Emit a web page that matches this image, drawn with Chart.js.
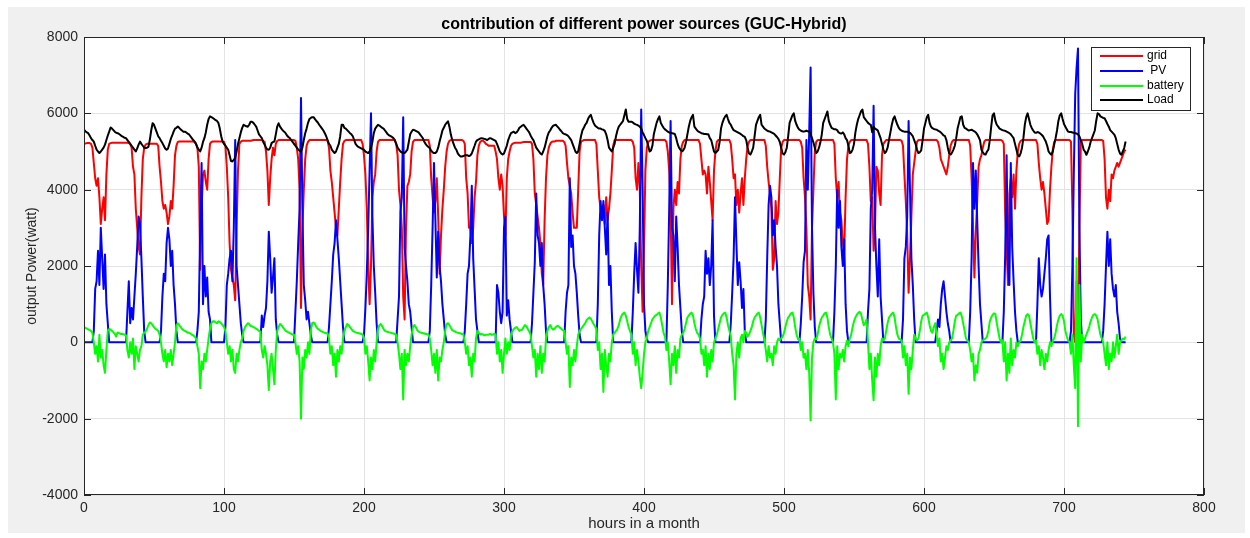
<!DOCTYPE html>
<html>
<head>
<meta charset="utf-8">
<title>contribution of different power sources</title>
<script src="https://cdn.jsdelivr.net/npm/chart.js@4.4.1/dist/chart.umd.min.js"></script>
<style>
  html, body { margin: 0; padding: 0; background: #ffffff; }
  #wrap { width: 1250px; height: 538px; }
</style>
</head>
<body>
<div id="wrap"><canvas id="powerChart" width="1250" height="538"></canvas></div>
<script>
// hourly values, one row per day (24 h), last row runs to hour 744
const gridDays = [
  [5200,5210,5220,5220,5220,5200,5100,4700,4300,4100,4300,3800,3100,3500,3800,3200,4400,5050,5200,5220,5230,5230,5230,5230],
  [5230,5230,5230,5230,5230,5230,5230,5230,5220,5200,5100,4600,4400,3500,3000,2500,2300,3800,4800,5100,5180,5200,5200,5200],
  [5200,5200,5200,5200,5200,5150,4600,4200,3700,3500,3600,3400,3100,3300,3700,3500,4100,4900,5150,5250,5260,5260,5260,5260],
  [5260,5260,5260,5260,5260,5260,5260,5250,5200,5100,4600,1900,3500,4400,4500,4200,4000,4800,5200,5250,5260,5260,5260,5260],
  [5260,5260,5260,5260,5250,5150,4600,3800,2600,1900,1700,1500,1100,3000,4500,5200,5260,5280,5280,5280,5280,5280,5280,5280],
  [5290,5300,5300,5300,5300,5300,5300,5300,5280,5250,5000,4500,3600,4300,4800,5100,4900,5200,5280,5300,5300,5300,5300,5300],
  [5300,5300,5300,5300,5300,5300,5300,5280,5100,4800,4000,900,3000,4000,4800,5150,5250,5300,5300,5300,5300,5300,5300,5300],
  [5300,5300,5300,5300,5300,5300,5280,5100,4500,4200,3800,3400,3000,2800,3500,4200,4800,5200,5280,5300,5300,5300,5300,5300],
  [5300,5300,5300,5300,5300,5300,5300,5200,4900,4400,3500,2000,1000,2000,3800,4200,4400,5000,5250,5300,5300,5300,5300,5300],
  [5300,5300,5300,5300,5300,5300,5300,5200,4900,4000,3600,3000,1200,600,3000,4100,4200,4400,5000,5250,5300,5300,5300,5300],
  [5300,5300,5300,5300,5300,5300,5300,5150,4300,3800,3400,3700,4300,3300,1800,2800,3500,4000,4600,5000,5200,5280,5300,5300],
  [5300,5300,5300,5300,5300,5300,5300,5280,5200,4300,3900,3000,3000,2600,3000,3800,4200,4900,5150,5250,5280,5280,5250,5200],
  [5180,5150,5150,5150,5150,5150,5000,4800,4300,4000,4400,4100,3300,2800,4300,4800,5000,5150,5200,5220,5230,5230,5230,5230],
  [5230,5240,5250,5250,5250,5250,5250,5250,5200,4800,3900,3600,3300,3000,2600,1800,1500,3200,4300,4900,5100,5200,5250,5260],
  [5260,5280,5280,5280,5280,5280,5280,5250,5150,4700,4300,4100,3900,3400,3000,3000,3000,4000,5000,5250,5280,5300,5300,5300],
  [5300,5300,5300,5300,5300,5300,5200,4500,3800,3500,3300,3600,3100,3800,3200,3500,3900,4500,5150,5300,5300,5300,5300,5300],
  [5300,5300,5300,5300,5300,5300,5300,5300,5250,5100,4300,4000,4700,4000,2000,800,2500,4500,5100,5250,5280,5300,5300,5300],
  [5300,5300,5300,5300,5300,5300,5300,5300,5250,5000,4500,3500,1000,3500,4000,3600,4200,3900,4800,5150,5250,5300,5300,5300],
  [5300,5300,5300,5300,5300,5300,5300,5300,5200,4800,4400,4500,4400,3900,4600,4200,3700,3200,4500,5000,5250,5300,5300,5300],
  [5300,5300,5300,5300,5300,5300,5200,4800,4300,4400,3600,4000,3400,3900,4300,3600,4300,4800,5150,5250,5300,5300,5300,5300],
  [5300,5300,5300,5300,5300,5300,5300,5150,4600,4200,3900,3500,1900,2200,3700,3100,3400,4300,5100,5250,5300,5300,5300,5300],
  [5300,5300,5300,5300,5300,5300,5300,5300,5250,5100,4300,3800,3000,1500,1200,600,3000,4000,5000,5250,5300,5300,5300,5300],
  [5300,5300,5300,5300,5300,5300,5300,5300,5200,4300,3800,4200,3400,3200,2600,2400,3800,4800,5150,5250,5300,5300,5300,5300],
  [5300,5300,5300,5300,5300,5300,5300,5300,5200,4600,3700,3800,2400,3000,4600,4500,3900,3600,4900,5200,5250,5300,5300,5300],
  [5300,5300,5300,5300,5300,5300,5300,5300,5280,5150,4400,3700,2800,1300,2200,3300,4400,4700,5000,5250,5300,5300,5300,5300],
  [5300,5300,5300,5300,5300,5300,5300,5300,5300,5300,5250,5100,4800,4700,4600,4500,4400,4600,4900,5150,5250,5300,5300,5300],
  [5300,5300,5300,5300,5300,5300,5300,5300,5300,5150,4300,3100,1700,2900,3700,4600,4800,4900,5100,5250,5300,5300,5300,5300],
  [5300,5300,5300,5300,5300,5300,5300,5300,5280,5200,3400,2500,1500,3900,4300,3800,4400,3500,4500,5000,5200,5280,5300,5300],
  [5300,5300,5300,5300,5300,5300,5300,5300,5300,5200,4700,4300,4000,4200,3900,3500,3100,3200,4000,4600,5050,5250,5300,5300],
  [5300,5300,5300,5300,5300,5300,5300,5300,5300,5250,3500,200,0,1600,0,3000,5250,5300,5300,5300,5300,5300,5300,5300],
  [5300,5300,5300,5300,5300,5300,5300,5300,5280,4800,3800,3500,4000,3700,4400,4300,4500,4600,4700,4600,4700,4800,4900,5000,5050]
];

const pvDays = [
  [0,0,0,0,0,0,0,300,1400,1600,2400,1500,3000,2200,1400,2300,1000,500,0,0,0,0,0,0],
  [0,0,0,0,0,0,0,800,1600,500,900,600,1200,1800,2500,3300,3100,2200,1200,300,0,0,0,0],
  [0,0,0,0,0,0,0,300,1200,1800,1600,2600,3000,2700,2000,2400,1500,1000,300,0,0,0,0,0],
  [0,0,0,0,0,0,0,0,0,300,800,3000,4700,1000,2000,1200,1700,800,600,0,0,0,0,0],
  [0,0,0,0,0,400,1500,1800,2200,2400,1600,3000,5300,2000,1500,1000,500,200,0,0,0,0,0,0],
  [0,0,0,0,0,0,0,700,400,700,900,1600,2900,2200,1300,1700,2200,600,200,0,0,0,0,0],
  [0,0,0,0,0,0,0,800,1600,2600,3500,6400,3500,1500,1100,600,800,500,200,0,0,0,0,0],
  [0,0,0,0,0,0,0,400,1000,1600,2300,2600,3200,2700,2200,1600,1000,400,0,0,0,0,0,0],
  [0,0,0,0,0,0,0,0,200,900,1800,3000,4500,6000,3300,2000,1300,500,0,0,0,0,0,0],
  [0,0,0,0,0,0,0,0,600,1200,3400,3800,5900,2500,2000,1600,1000,800,400,0,0,0,0,0],
  [0,0,0,0,0,0,0,300,1500,3000,4700,3200,1700,2900,2000,1600,1000,600,200,0,0,0,0,0],
  [0,0,0,0,0,0,0,0,300,1000,1800,2000,2800,4100,2200,1400,600,300,0,0,0,0,0,0],
  [0,0,0,0,0,0,0,1500,1300,800,500,800,3000,3300,700,1100,600,300,0,0,0,0,0,0],
  [0,0,0,0,0,0,0,0,500,1300,2100,3900,2800,2600,2000,2600,1500,1000,300,0,0,0,0,0],
  [0,0,0,0,0,0,0,0,800,1300,1500,4300,2500,2800,2000,1800,1300,700,200,0,0,0,0,0],
  [0,0,0,0,0,0,0,1000,2800,3700,3200,3700,3000,2300,3400,1500,2000,800,0,0,0,0,0,0],
  [0,0,0,0,0,0,0,0,800,1800,2600,1900,1300,3000,6100,4100,1000,300,100,0,0,0,0,0],
  [0,0,0,0,0,0,0,0,0,1500,3500,5800,3000,2800,1600,3300,2500,1500,900,300,0,0,0,0],
  [0,0,0,0,0,0,0,0,0,600,1000,1200,2400,1800,2200,1500,2000,3200,700,0,0,0,0,0],
  [0,0,0,0,0,0,500,1300,2200,3800,2600,1500,2100,1600,900,1400,300,0,0,0,0,0,0,0],
  [0,0,0,0,0,0,0,600,2200,3600,4100,3800,2800,3200,2500,2000,1000,500,0,0,0,0,0,0],
  [0,0,0,0,0,0,0,0,500,1200,2100,2400,5300,4000,5500,7200,3000,1300,400,0,0,0,0,0],
  [0,0,0,0,0,0,0,0,800,2000,4000,3000,3700,2500,2000,2700,1000,300,0,0,0,0,0,0],
  [0,0,0,0,0,0,0,0,800,1400,3500,4000,6200,3000,2000,1200,2700,1200,600,0,0,0,0,0],
  [0,0,0,0,0,0,0,0,0,600,2200,2500,3300,5800,4000,2200,1500,600,0,0,0,0,0,0],
  [0,0,0,0,0,0,0,0,0,300,600,400,1000,1400,1600,1200,800,500,300,0,0,0,0,0],
  [0,0,0,0,0,0,0,0,0,800,2200,4700,3500,4500,3200,2000,1000,500,0,0,0,0,0,0],
  [0,0,0,0,0,0,0,0,0,800,2300,4900,2000,1500,4700,2500,1600,800,300,0,0,0,0,0],
  [0,0,0,0,0,0,0,0,0,1000,2200,1500,1200,1400,1800,2200,2700,2800,1200,0,0,0,0,0],
  [0,0,0,0,0,0,0,0,0,300,2000,4400,6500,7200,7700,3000,600,0,0,0,0,0,0,0],
  [0,0,0,0,0,0,0,0,300,1000,2000,2900,2000,2700,1800,1400,1200,1500,800,500,100,0,0,0,0]
];

const batteryDays = [
  [390,380,360,340,320,300,250,0,-300,-100,-500,200,-400,-200,-600,-800,-200,300,350,330,300,260,220,150],
  [260,240,220,220,210,200,180,-200,-400,0,-300,100,-700,-100,-300,-500,-200,-100,200,250,280,350,450,520],
  [500,450,400,350,330,300,200,0,-300,-500,-200,-650,-300,-500,-200,-600,-300,0,450,500,450,400,350,320],
  [300,280,250,250,230,200,180,150,100,-100,-300,-1200,-500,-700,-300,-500,-200,100,350,500,550,550,520,500],
  [550,530,500,450,400,300,0,-300,-100,-500,-200,-700,-800,-300,-500,-200,0,100,300,400,450,500,480,420],
  [420,400,380,350,330,300,280,-200,-400,-100,-300,-600,-1250,-500,-300,-700,-1100,-200,300,400,480,450,400,350],
  [300,280,260,240,220,200,200,0,-300,-100,-500,-2000,-400,-700,-200,-400,0,-300,300,500,520,480,400,350],
  [330,300,280,260,250,240,230,100,-300,-100,-600,-300,-900,-200,-500,-100,-300,100,300,400,480,450,400,350],
  [300,280,260,250,240,230,220,200,100,-300,-100,-500,-1000,-400,-700,-200,-500,0,350,450,480,420,350,300],
  [280,270,260,250,240,230,220,200,0,-300,-700,-300,-1500,-200,-600,-300,-500,-100,200,400,450,400,320,280],
  [260,250,240,230,220,210,200,100,-200,-600,-300,-800,-200,-1000,-400,-500,-200,0,300,480,500,450,380,320],
  [300,280,260,250,240,230,220,200,0,-300,-100,-600,-400,-900,-300,-500,100,300,250,200,220,200,180,200],
  [200,200,220,200,200,220,200,-300,0,-500,-200,-800,-300,100,-300,0,-200,200,300,350,380,400,350,300],
  [320,330,400,450,420,350,280,200,-100,-400,-200,-900,-300,-700,-100,-800,-300,-500,100,300,400,450,380,330],
  [350,400,430,420,380,350,320,300,0,-300,-100,-1170,-400,-600,-200,-500,-100,200,300,350,400,450,500,580],
  [620,650,620,550,480,420,350,-200,0,-700,-300,-1300,-200,-600,-900,-300,-500,0,200,250,300,350,450,600],
  [700,750,780,700,550,400,300,200,-300,0,-600,-200,-500,-900,-1200,-800,-300,0,100,300,400,500,600,650],
  [700,720,760,780,650,450,250,150,-200,0,-500,-1100,-300,-600,-100,-800,-200,-400,100,200,250,350,500,650],
  [700,750,780,700,500,350,250,200,100,-300,-200,-600,-100,-900,-300,-700,-200,-500,0,100,200,350,500,650],
  [720,760,780,650,450,300,150,-300,-600,-1500,-300,0,-400,100,200,0,300,250,150,200,300,400,550,650],
  [700,750,780,650,450,250,50,-200,-500,-100,-400,-300,-600,-100,-300,0,100,50,100,150,250,400,550,650],
  [700,760,780,650,400,200,80,100,-200,0,-400,-300,-700,-200,-800,-2050,-400,0,100,80,200,400,550,650],
  [700,760,780,650,400,200,100,0,-300,-1500,-100,-700,-300,-400,-200,-500,-100,50,-100,100,200,400,550,650],
  [720,770,800,750,600,450,500,600,0,-700,-300,-1000,-1520,-400,-900,-300,-600,-100,100,50,100,300,500,650],
  [700,750,780,650,400,200,100,80,50,-400,-100,-600,-300,-1350,-400,-700,-200,200,100,50,100,300,550,700],
  [720,750,780,650,450,300,250,400,500,200,-100,100,-500,-300,-700,-400,-100,-200,0,50,100,300,550,700],
  [720,760,780,680,500,300,100,50,0,-200,-500,-300,-1000,-600,-800,-300,-200,0,50,80,100,150,300,550],
  [650,720,760,740,500,300,100,0,50,-500,0,-1000,-300,-800,100,-600,-200,-400,0,-100,0,50,200,400],
  [550,700,740,700,500,300,100,0,50,-300,-100,-600,-200,-400,-700,-300,-500,-200,0,-100,50,100,250,450],
  [600,700,740,700,550,300,150,50,0,-300,200,-600,-1200,2200,-2200,1500,-500,200,0,100,200,300,400,550],
  [650,720,740,700,600,400,200,100,0,-300,-600,0,-700,-300,-500,0,-400,-100,200,-300,0,50,100,80,150]
];

const loadDays = [
  [5570,5530,5500,5480,5420,5350,5300,5260,5150,5050,5000,4960,5000,5050,5100,5180,5300,5420,5520,5630,5600,5560,5520,5490],
  [5480,5460,5430,5400,5380,5360,5350,5300,5250,5200,5150,5100,5050,5000,5080,5180,5260,5200,5150,5100,5090,5100,5120,5300],
  [5550,5740,5700,5600,5500,5400,5350,5280,5220,5150,5080,5045,5080,5200,5330,5420,5520,5600,5620,5655,5620,5580,5550,5520],
  [5520,5500,5470,5450,5400,5350,5300,5260,5200,5100,5050,5000,5100,5250,5350,5500,5700,5850,5920,5900,5880,5850,5820,5800],
  [5750,5600,5400,5260,5200,5150,5100,5045,4900,4750,4740,4780,4830,5000,5200,5350,5500,5620,5700,5680,5660,5650,5700,5780],
  [5780,5750,5700,5650,5550,5450,5400,5350,5250,5180,5100,5050,5045,5100,5220,5250,5260,5450,5650,5740,5650,5600,5550,5520],
  [5480,5420,5380,5350,5300,5250,5200,5150,5100,5050,5020,5000,5100,5300,5480,5600,5750,5850,5880,5900,5900,5850,5800,5760],
  [5700,5650,5600,5550,5480,5400,5300,5200,5150,5050,5000,4960,5000,5100,5200,5400,5700,5700,5620,5600,5560,5520,5480,5450],
  [5400,5300,5200,5150,5120,5100,5080,5060,5040,5000,4980,4960,5000,5100,5250,5480,5600,5650,5700,5680,5650,5620,5600,5550],
  [5500,5450,5420,5400,5380,5350,5300,5200,5100,5050,5000,4980,4960,4960,5000,5050,5250,5450,5520,5570,5560,5540,5520,5500],
  [5450,5400,5350,5260,5200,5150,5120,5090,5020,4980,4960,4960,5000,5100,5260,5400,5550,5620,5700,5750,5790,5650,5450,5300],
  [5200,5100,5045,4950,4900,4870,4870,4880,4900,4900,4900,4880,4900,4950,5050,5150,5260,5300,5320,5340,5350,5340,5330,5320],
  [5300,5330,5350,5340,5320,5300,5280,5200,5100,5000,4950,4920,4950,5050,5150,5300,5400,5480,5500,5520,5480,5500,5550,5620],
  [5650,5680,5700,5650,5600,5550,5500,5420,5350,5300,5200,5100,5050,5000,4950,4920,5000,5100,5250,5400,5500,5550,5620,5670],
  [5690,5700,5660,5620,5570,5530,5480,5460,5450,5430,5400,5350,5300,5200,5100,5000,4960,5000,5200,5400,5550,5620,5700,5750],
  [5850,5920,5960,5850,5750,5680,5650,5620,5600,5600,5580,5570,5540,5450,5300,5100,5050,5000,5100,5200,5400,5550,5650,5700],
  [5750,5800,5950,6100,5850,5780,5780,5780,5760,5730,5710,5700,5680,5650,5600,5500,5430,5350,5280,5150,5000,5030,5150,5450],
  [5600,5750,5850,5920,5750,5680,5620,5580,5550,5520,5500,5490,5480,5470,5460,5350,5200,5100,5050,5000,5030,5100,5250,5450],
  [5650,5800,5900,5960,5650,5600,5550,5520,5500,5480,5470,5460,5460,5450,5450,5350,5300,5150,5000,4960,5000,5040,5250,5600],
  [5750,5850,5920,5960,5850,5750,5700,5620,5560,5540,5520,5500,5480,5460,5430,5400,5380,5300,5100,4950,4920,5000,5100,5400],
  [5700,5800,5900,5960,5700,5650,5600,5570,5550,5530,5520,5500,5480,5460,5420,5380,5330,5250,5100,4950,4920,4980,5100,5400],
  [5750,5850,5950,6000,5800,5700,5620,5570,5550,5530,5520,5530,5550,5530,5520,5450,5350,5240,5100,4960,5000,5100,5240,5450],
  [5750,5850,5950,6050,5800,5700,5620,5600,5580,5580,5560,5500,5480,5470,5500,5450,5350,5300,5150,4960,4980,5050,5200,5500],
  [5700,5850,5950,6050,6100,5900,5850,5800,5750,5720,5700,5500,5650,5600,5580,5550,5450,5350,5200,5050,4960,5000,5100,5300],
  [5500,5700,5850,5920,5800,5700,5620,5570,5550,5530,5520,5520,5520,5510,5490,5450,5400,5300,5200,5050,4960,4980,5030,5300],
  [5600,5750,5900,5960,5750,5650,5610,5590,5580,5570,5550,5530,5500,5460,5420,5400,5300,5100,4950,4920,4970,5050,5150,5350],
  [5600,5750,5900,5920,5700,5620,5600,5570,5550,5560,5570,5550,5530,5500,5450,5380,5300,5050,4980,4930,4920,5000,5050,5300],
  [5650,5950,6000,5800,5700,5650,5600,5580,5560,5550,5540,5520,5500,5480,5450,5400,5350,5200,5050,4900,4870,4950,5100,5350],
  [5700,5900,6000,5850,5700,5610,5550,5500,5490,5510,5500,5470,5440,5400,5330,5260,5150,5000,4950,4915,5000,5180,5350,5550],
  [5800,5950,6000,5850,5720,5650,5580,5520,5510,5510,5500,5490,5480,5470,5450,5400,5300,5200,5050,5000,4915,5000,5100,5250],
  [5350,5450,5550,5800,6000,5980,5920,5900,5880,5870,5800,5720,5650,5560,5520,5480,5440,5350,5200,5050,4950,4915,5000,5090,5260]
];

const seriesNames = ['grid', 'PV', 'battery', 'Load'];
const legendText = ['grid', ' PV', 'battery', 'Load'];
const seriesColors = ['#ff0000', '#0000ff', '#00ff00', '#000000'];
const xTickValues = [0, 100, 200, 300, 400, 500, 600, 700, 800];
const yTickValues = [-4000, -2000, 0, 2000, 4000, 6000, 8000];

const FONT = '"Liberation Sans", Arial, Helvetica, sans-serif';

const grid = gridDays.flat();
const pv = pvDays.flat();
const battery = batteryDays.flat();
const load = loadDays.flat();
const hours = grid.map((v, i) => i);

function toPoints(values) {
  return values.map((v, i) => ({ x: hours[i], y: v }));
}

// matlab-like figure: grey surround, framed white axes, inward ticks, boxed legend
const figureLook = {
  id: 'figureLook',
  beforeDraw(chart) {
    const { ctx, chartArea: a } = chart;
    ctx.save();
    ctx.fillStyle = '#ffffff';
    ctx.fillRect(0, 0, chart.width, chart.height);
    ctx.fillStyle = '#f0f0f0';
    ctx.fillRect(8, 7, chart.width - 13, chart.height - 12);
    ctx.fillStyle = '#ffffff';
    ctx.fillRect(a.left, a.top, a.right - a.left, a.bottom - a.top);
    ctx.restore();
  },
  afterDatasetsDraw(chart) {
    const { ctx, chartArea: a, scales } = chart;
    ctx.save();
    ctx.strokeStyle = '#262626';
    ctx.lineWidth = 1;
    ctx.strokeRect(a.left + 0.5, a.top + 0.5, a.right - a.left - 1, a.bottom - a.top - 1);
    ctx.beginPath();
    xTickValues.forEach(v => {
      const x = Math.round(scales.x.getPixelForValue(v)) + 0.5;
      ctx.moveTo(x, a.bottom); ctx.lineTo(x, a.bottom - 7);
      ctx.moveTo(x, a.top); ctx.lineTo(x, a.top + 7);
    });
    yTickValues.forEach(v => {
      const y = Math.round(scales.y.getPixelForValue(v)) + 0.5;
      ctx.moveTo(a.left, y); ctx.lineTo(a.left + 7, y);
      ctx.moveTo(a.right, y); ctx.lineTo(a.right - 7, y);
    });
    ctx.stroke();
    ctx.restore();
  },
  afterDraw(chart) {
    const { ctx, chartArea: a } = chart;
    const midX = (a.left + a.right) / 2;
    ctx.save();
    ctx.fillStyle = '#000000';
    ctx.textAlign = 'center';
    ctx.textBaseline = 'middle';
    ctx.font = 'bold 16px ' + FONT;
    ctx.fillText('contribution of different power sources (GUC-Hybrid)', midX, 25);

    ctx.fillStyle = '#262626';
    ctx.font = '15px ' + FONT;
    ctx.fillText('hours in a month', midX, 524);
    ctx.font = '14px ' + FONT;
    ctx.translate(32, (a.top + a.bottom) / 2);
    ctx.rotate(-Math.PI / 2);
    ctx.fillText('output Power(watt)', 0, 0);
    ctx.restore();

    // legend box, top right inside the axes
    ctx.save();
    const bx = 1091, by = 47, bw = 99, bh = 63;
    ctx.fillStyle = '#ffffff';
    ctx.fillRect(bx, by, bw, bh);
    ctx.strokeStyle = '#262626';
    ctx.lineWidth = 1;
    ctx.strokeRect(bx + 0.5, by + 0.5, bw, bh);
    ctx.font = '12px ' + FONT;
    ctx.textAlign = 'left';
    ctx.textBaseline = 'middle';
    const rows = [56, 71, 86, 100];
    chart.data.datasets.forEach((ds, i) => {
      ctx.strokeStyle = ds.borderColor;
      ctx.lineWidth = 2;
      ctx.beginPath();
      ctx.moveTo(bx + 9, rows[i]);
      ctx.lineTo(bx + 52, rows[i]);
      ctx.stroke();
      ctx.fillStyle = '#000000';
      ctx.fillText(legendText[i], bx + 56, rows[i]);
    });
    ctx.restore();
  }
};

const ctx = document.getElementById('powerChart');

new Chart(ctx, {
  type: 'line',
  data: {
    datasets: [
      { label: seriesNames[0], data: toPoints(grid), borderColor: seriesColors[0], order: 4 },
      { label: seriesNames[1], data: toPoints(pv), borderColor: seriesColors[1], order: 3 },
      { label: seriesNames[2], data: toPoints(battery), borderColor: seriesColors[2], order: 2 },
      { label: seriesNames[3], data: toPoints(load), borderColor: seriesColors[3], order: 1 }
    ]
  },
  options: {
    responsive: false,
    animation: false,
    parsing: false,
    layout: { padding: { left: 0, right: 46, top: 37, bottom: 0 } },
    elements: {
      point: { radius: 0 },
      line: { borderWidth: 2, tension: 0, fill: false, borderJoinStyle: 'round' }
    },
    plugins: {
      legend: { display: false },
      tooltip: { enabled: false },
      title: { display: false }
    },
    scales: {
      x: {
        type: 'linear',
        min: 0,
        max: 800,
        afterBuildTicks: s => { s.ticks = xTickValues.map(v => ({ value: v })); },
        afterFit: s => { s.height = 43; },
        ticks: {
          color: '#262626',
          padding: 5,
          maxRotation: 0,
          autoSkip: false,
          font: { family: FONT, size: 14 },
          callback: v => String(v)
        },
        grid: { color: '#e3e3e3', lineWidth: 1, drawTicks: false },
        border: { display: false }
      },
      y: {
        type: 'linear',
        min: -4000,
        max: 8000,
        afterBuildTicks: s => { s.ticks = yTickValues.map(v => ({ value: v })); },
        afterFit: s => { s.width = 84; },
        ticks: {
          color: '#262626',
          padding: 6,
          autoSkip: false,
          font: { family: FONT, size: 14 },
          callback: v => String(v)
        },
        grid: { color: '#e3e3e3', lineWidth: 1, drawTicks: false },
        border: { display: false }
      }
    }
  },
  plugins: [figureLook]
});
</script>
</body>
</html>
